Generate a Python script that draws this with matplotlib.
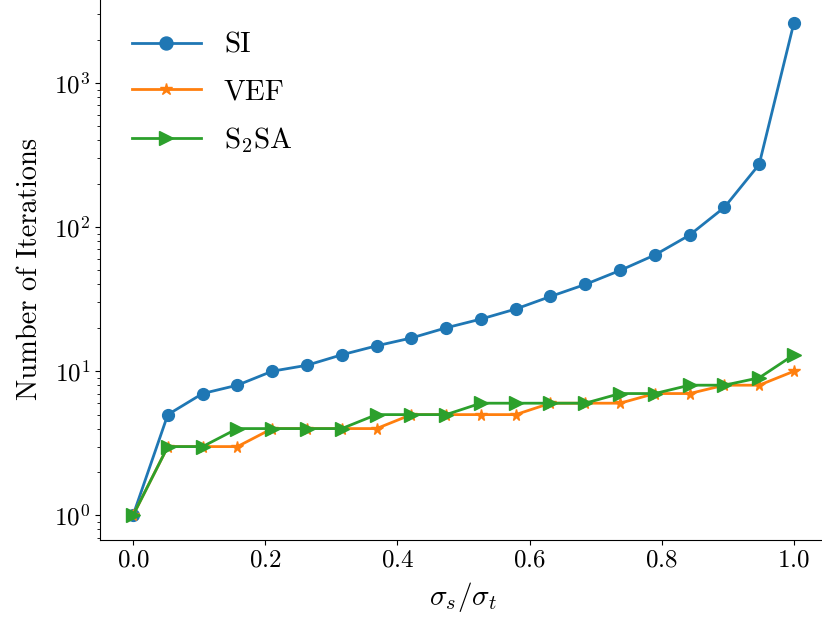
import numpy as np
import matplotlib; matplotlib.use("Agg")
import matplotlib.pyplot as plt

plt.rcParams["font.family"] = "serif"
plt.rcParams["font.serif"] = ["cmr10"]
plt.rcParams["mathtext.fontset"] = "cm"
plt.rcParams["axes.formatter.use_mathtext"] = True

ratio = np.linspace(0, 1, 20)
si = [1, 5, 7, 8, 10, 11, 13, 15, 17, 20, 23, 27, 33, 40, 50, 64, 88, 137, 272, 2620]
vef = [1, 3, 3, 3, 4, 4, 4, 4, 5, 5, 5, 5, 6, 6, 6, 7, 7, 8, 8, 10]
s2sa = [1, 3, 3, 4, 4, 4, 4, 5, 5, 5, 6, 6, 6, 6, 7, 7, 8, 8, 9, 13]

fig = plt.figure(figsize=(8.22, 6.21), dpi=100)
ax = fig.add_axes([100/822, 81/621, 727/822, 542/621])
ax.semilogy(ratio, si, "o-", label="SI", markersize=8.5, lw=2)
ax.semilogy(ratio, vef, "*-", label="VEF", markersize=8.5, lw=2)
ax.semilogy(ratio, s2sa, ">-", label=r"S$_2$SA", markersize=9.5, lw=2)
ax.spines["top"].set_visible(False); ax.spines["right"].set_visible(False)
ax.set_xlabel(r"$\sigma_s/\sigma_t$", fontsize=21, labelpad=6)
ax.set_ylabel("Number of Iterations", fontsize=20.5, labelpad=8)
ax.tick_params(labelsize=18)
ax.set_xticks([0.0, 0.2, 0.4, 0.6, 0.8, 1.0])
ax.legend(fontsize=21, frameon=False, loc="upper left", bbox_to_anchor=(0.008, 0.985),
          handlelength=2.35, labelspacing=0.68, markerscale=1.1)
fig.savefig("out.png", dpi=100)
